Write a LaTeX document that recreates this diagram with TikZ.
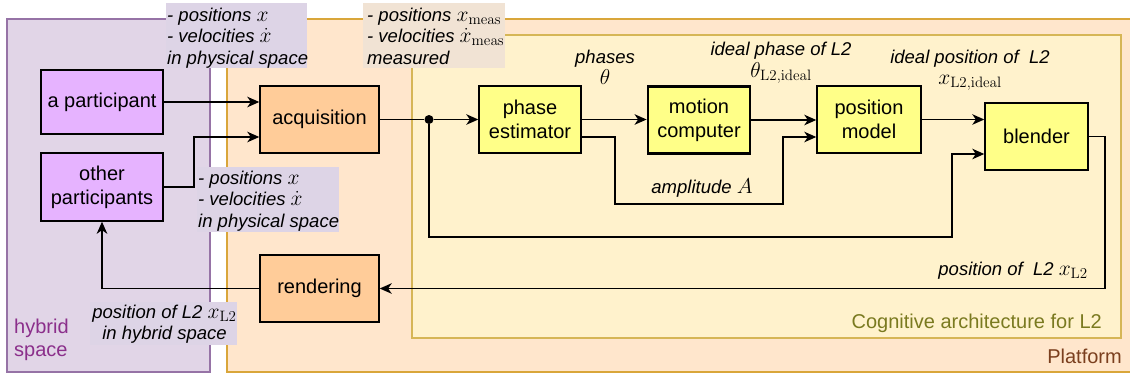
\RequirePackage{fix-cm}
\documentclass[tikz,border=0pt]{standalone}
\usepackage[no-math]{fontspec}
\setmainfont{Liberation Sans}
\usetikzlibrary{arrows.meta,calc}
\definecolor{hybfill}{HTML}{E1D5E7}
\definecolor{hybdraw}{HTML}{9673A6}
\definecolor{platfill}{HTML}{FFE6CC}
\definecolor{platdraw}{HTML}{D9A63A}
\definecolor{cogfill}{HTML}{FFF2CC}
\definecolor{cogdraw}{HTML}{D6B656}
\definecolor{purplenode}{HTML}{E6B3FF}
\definecolor{orangenode}{HTML}{FFCC99}
\definecolor{yellownode}{HTML}{FFFF88}
\definecolor{lblpurple}{HTML}{DDD4E6}
\definecolor{lblpeach}{HTML}{F1E3D4}
\definecolor{hybtext}{HTML}{8B2F8B}
\definecolor{cogtext}{HTML}{7A7A20}
\definecolor{plattext}{HTML}{7B3F1E}
\newcommand{\mth}[1]{{\fontsize{21.5}{21.5}\selectfont$#1$}}
\begin{document}
\begin{tikzpicture}[x=1pt,y=-1pt,
  box/.style={draw, line width=1.4pt, inner sep=0pt, align=center, font=\fontsize{20}{24}\selectfont},
  pbox/.style={box, fill=purplenode, minimum width=122pt},
  obox/.style={box, fill=orangenode, minimum width=119pt, minimum height=67pt},
  ybox/.style={box, fill=yellownode, minimum height=67pt},
  lbl/.style={inner sep=0pt, font=\fontsize{18.5}{21.5}\selectfont\itshape},
  conn/.style={line width=1.6pt},
  arr/.style={conn, -{Stealth[length=12pt,width=10.5pt,inset=3.5pt]}},
  region/.style={line width=1.3pt}
]
\useasboundingbox (0,0) rectangle (1130,378);
\fill[white] (0,0) rectangle (1130,378);
% regions
\draw[region, draw=hybdraw, fill=hybfill] (7,19) rectangle (210,372);
\draw[region, draw=platdraw, fill=platfill] (227,19) rectangle (1136,372);
\draw[region, draw=cogdraw, fill=cogfill] (412,35) rectangle (1121,338);
% label backgrounds
\fill[lblpurple] (166,3) rectangle (307,68);
\fill[lblpeach] (363,3) rectangle (505,68);
\fill[lblpurple] (197,167) rectangle (339,232);
\fill[lblpurple] (90,302) rectangle (237,345);
% nodes
\node[pbox, minimum height=64pt] (ap) at (102,102) {a participant};
\node[pbox, minimum height=68pt] (op) at (102,187) {other\\participants};
\node[obox] (acq) at (319.5,119.5) {acquisition};
\node[obox] (rend) at (319.5,288.5) {rendering};
\node[ybox, minimum width=102pt] (pe) at (530,119.5) {phase\\estimator};
\node[ybox, minimum width=102pt, line width=2.8pt] (mc) at (699,120) {motion\\computer};
\node[ybox, minimum width=104pt] (pm) at (869,119.5) {position\\model};
\node[ybox, minimum width=103pt] (bl) at (1036.5,136.5) {blender};
\node[circle, fill=black, inner sep=0pt, minimum size=9pt] (j) at (429,119.5) {};
% connectors
\draw[arr] (ap.east) -- (ap.east -| acq.west);
\draw[arr] (op.east) -- ++(30,0) |- ($(acq.west)+(0,17.5)$);
\draw[conn] (acq.east) -- (j);
\draw[arr] (j) -- (pe.west);
\draw[arr] (j) |- (952,237) |- ($(bl.west)+(0,17.5)$);
\draw[arr] (pe.east) -- (pe.east -| mc.west);
\draw[arr] ($(pe.east)+(0,17.5)$) -| (615,204) -| (783,137) -- ($(pm.west)+(0,17.5)$);
\draw[arr] (mc.east) -- (mc.east -| pm.west);
\draw[arr] (pm.east) -- (pm.east -| bl.west);
\draw[arr] (bl.east) -- ++(16.5,0) |- (rend.east);
\draw[arr] (rend.west) -| (op.south);
% labels
\node[lbl, anchor=north west, align=left] (l1) at (167,6) {\strut- positions \mth{x}\\- velocities \mth{\dot{x}}\\in physical space};
\node[lbl, anchor=north west, align=left] (l2) at (367,6) {\strut- positions \mth{x_{\mathrm{meas}}}\\- velocities \mth{\dot{x}_{\mathrm{meas}}}\\measured};
\node[lbl, anchor=north west, align=left] (l3) at (198,169) {\strut- positions \mth{x}\\- velocities \mth{\dot{x}}\\in physical space};
\node[lbl, anchor=north, align=center] (l4) at (164.5,303) {\strut position of L2 \mth{x_{\mathrm{L2}}}\\in hybrid space};
\node[lbl, anchor=north, align=center] (l5) at (605,48) {\strut phases\\\mth{\theta}};
\node[lbl, anchor=north, align=center] (l6) at (781,40.5) {\strut ideal phase of L2\\\mth{\theta_{\mathrm{L2,ideal}}}};
\node[lbl, anchor=north, align=center] (l7) at (970,48) {\strut ideal position of~ L2\\\mth{x_{\mathrm{L2,ideal}}}};
\node[lbl, anchor=base] (l8) at (702,193) {amplitude \mth{A}};
\node[lbl, anchor=base east] (l9) at (1088,275) {position of~ L2 \mth{x_{\mathrm{L2}}}};
\node[inner sep=0pt, anchor=north west, align=left, text=hybtext, font=\fontsize{20}{23.4}\selectfont] (hs) at (14,316.6) {\strut hybrid\\space};
\node[inner sep=0pt, anchor=base east, text=cogtext, font=\fontsize{20}{24}\selectfont] (ca) at (1102,328) {Cognitive architecture for L2};
\node[inner sep=0pt, anchor=base east, text=plattext, font=\fontsize{20}{24}\selectfont] (pf) at (1122,363) {Platform};
\end{tikzpicture}
\end{document}
